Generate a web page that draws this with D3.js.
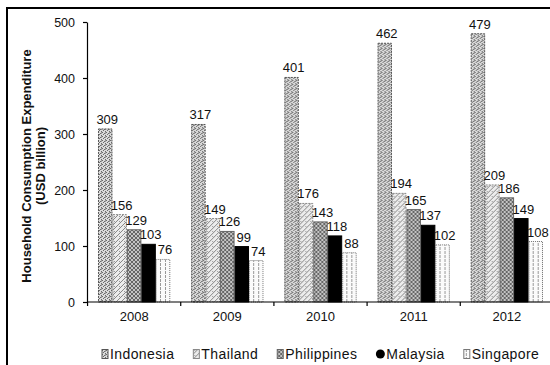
<!DOCTYPE html>
<html>
<head>
<meta charset="utf-8">
<script src="https://cdn.jsdelivr.net/npm/d3@7/dist/d3.min.js"></script>
<style>
  html, body { margin: 0; padding: 0; background: #fff; }
  svg { display: block; font-family: "Liberation Sans", Arial, sans-serif; }
</style>
</head>
<body>
<svg id="chart" width="550" height="365"></svg>
<script>
// Household consumption expenditure, USD billion
const years = ["2008", "2009", "2010", "2011", "2012"];
const countries = ["Indonesia", "Thailand", "Philippines", "Malaysia", "Singapore"];
const indonesia   = [309, 317, 401, 462, 479];
const thailand    = [156, 149, 176, 194, 209];
const philippines = [129, 126, 143, 165, 186];
const malaysia    = [103,  99, 118, 137, 149];
const singapore   = [ 76,  74,  88, 102, 108];
const yTicks = [0, 100, 200, 300, 400, 500];

const seriesValues = [indonesia, thailand, philippines, malaysia, singapore];

const svg = d3.select("#chart");
const defs = svg.append("defs");

// ---- fill textures, one per country ----
function tile(id, w, h, bg) {
  const p = defs.append("pattern").attr("id", id)
    .attr("patternUnits", "userSpaceOnUse").attr("width", w).attr("height", h);
  p.append("rect").attr("width", w).attr("height", h).attr("fill", bg);
  return p;
}
// Indonesia: fine stipple
{
  const p = tile("pat-ind", 4, 4, "#dadada");
  [[0,0],[2,1],[1,2],[3,3]].forEach(([a,b]) =>
    p.append("rect").attr("x", a).attr("y", b).attr("width", 1).attr("height", 1).attr("fill", "#6a6a6a"));
  p.append("rect").attr("x", 3).attr("y", 0).attr("width", 1).attr("height", 2).attr("fill", "#9a9a9a");
}
// Thailand: light diagonal hatch
{
  const p = tile("pat-tha", 5, 5, "#ececec");
  p.append("path").attr("d", "M0,5 L5,0 M-1,1 L1,-1 M4,6 L6,4")
    .attr("stroke", "#7a7a7a").attr("stroke-width", 0.9);
  p.append("rect").attr("x", 1).attr("y", 1).attr("width", 1).attr("height", 1).attr("fill", "#999");
}
// Philippines: denser cross hatch
{
  const p = tile("pat-phi", 4, 4, "#c4c4c4");
  p.append("path").attr("d", "M0,4 L4,0 M0,0 L4,4")
    .attr("stroke", "#4e4e4e").attr("stroke-width", 0.8);
}
// Singapore: vertical dashes on white
{
  const p = tile("pat-sin", 5, 4, "#fbfbfb");
  p.append("path").attr("d", "M2.5,0 V4")
    .attr("stroke", "#8c8c8c").attr("stroke-width", 0.9).attr("stroke-dasharray", "2,1");
}

const fills   = ["url(#pat-ind)", "url(#pat-tha)", "url(#pat-phi)", "#000", "url(#pat-sin)"];
const strokes = ["#555", "#888", "#666", "#000", "#777"];
const dashes  = ["2,1", "2,1", "none", "none", "1,1"];

// ---- frame ----
svg.append("path").attr("d", "M7,365 V8 H550")
  .attr("fill", "none").attr("stroke", "#000").attr("stroke-width", 2);

// ---- scales ----
const x0 = d3.scaleBand().domain(years).range([87, 554])
  .paddingInner(0.224).paddingOuter(0.118);
const x1 = d3.scaleBand().domain(countries).range([0, x0.bandwidth()]);
const y = d3.scaleLinear().domain([0, 500]).range([302, 22]);

// ---- bars ----
const groups = svg.append("g").selectAll("g").data(years).join("g")
  .attr("transform", d => `translate(${x0(d)},0)`);

groups.each(function (yr, yi) {
  const g = d3.select(this);
  const rows = countries.map((c, ci) => ({ c, ci, v: seriesValues[ci][yi] }));
  g.selectAll("rect").data(rows).join("rect")
    .attr("x", d => x1(d.c) + 0.5)
    .attr("y", d => y(d.v))
    .attr("width", x1.bandwidth() - 1)
    .attr("height", d => y(0) - y(d.v))
    .attr("fill", d => fills[d.ci])
    .attr("stroke", d => strokes[d.ci])
    .attr("stroke-width", 1)
    .attr("stroke-dasharray", d => dashes[d.ci]);
  g.selectAll("text").data(rows).join("text")
    .attr("x", d => x1(d.c) + x1.bandwidth() / 2 + 2)
    .attr("y", d => y(d.v) - 5)
    .attr("text-anchor", "middle")
    .attr("font-size", 13)
    .attr("fill", "#111")
    .text(d => d.v);
});

// ---- y axis ----
const yAxis = svg.append("g").attr("transform", "translate(87,0)")
  .call(d3.axisLeft(y).tickValues(yTicks).tickSize(4).tickSizeOuter(0).tickPadding(8));
yAxis.selectAll("text").attr("font-size", 12.5).attr("fill", "#111")
  .attr("font-family", "Liberation Sans, Arial, sans-serif");
yAxis.selectAll("line, path").attr("stroke", "#000").attr("stroke-width", 1.2);

// ---- x axis: category labels, with ticks on group boundaries ----
const xAxis = svg.append("g").attr("transform", `translate(0,${y(0)})`)
  .call(d3.axisBottom(x0).tickSize(0).tickSizeOuter(0).tickPadding(10));
xAxis.select(".domain").attr("d", "M87,0 H550").attr("stroke", "#000").attr("stroke-width", 1.2);
xAxis.selectAll("text").attr("font-size", 13).attr("fill", "#111")
  .attr("font-family", "Liberation Sans, Arial, sans-serif");
const gap = x0.step() - x0.bandwidth();
xAxis.selectAll("line.bound").data(years).join("line").attr("class", "bound")
  .attr("x1", d => x0(d) - gap / 2).attr("x2", d => x0(d) - gap / 2)
  .attr("y1", 0).attr("y2", 4)
  .attr("stroke", "#000").attr("stroke-width", 1.2);

// ---- y axis title ----
const title = svg.append("text")
  .attr("transform", "translate(26,166) rotate(-90)")
  .attr("text-anchor", "middle")
  .attr("font-weight", "bold")
  .attr("font-size", 13)
  .attr("fill", "#111");
title.append("tspan").attr("x", 0).attr("dy", "0.35em").text("Household Consumption Expenditure");
title.append("tspan").attr("x", 0).attr("dy", "1.1em").text("(USD billion)");

// ---- legend ----
const legend = svg.append("g").attr("transform", "translate(102,354)");
let lx = 0;
countries.forEach((c, ci) => {
  const item = legend.append("g").attr("transform", `translate(${lx},0)`);
  if (c === "Malaysia") {
    item.append("circle").attr("cx", 4).attr("cy", 0).attr("r", 4.5).attr("fill", "#000");
  } else {
    item.append("rect").attr("x", 0).attr("y", -4.5).attr("width", 6).attr("height", 9)
      .attr("fill", fills[ci]).attr("stroke", strokes[ci]).attr("stroke-width", 1);
  }
  const t = item.append("text").attr("x", c === "Malaysia" ? 10 : 8).attr("y", 0)
    .attr("dy", "0.35em").attr("font-size", 14).attr("letter-spacing", 0.4)
    .attr("fill", "#111").text(c);
  lx += (c === "Malaysia" ? 10 : 8) + t.node().getComputedTextLength() + 19;
});
</script>
</body>
</html>
